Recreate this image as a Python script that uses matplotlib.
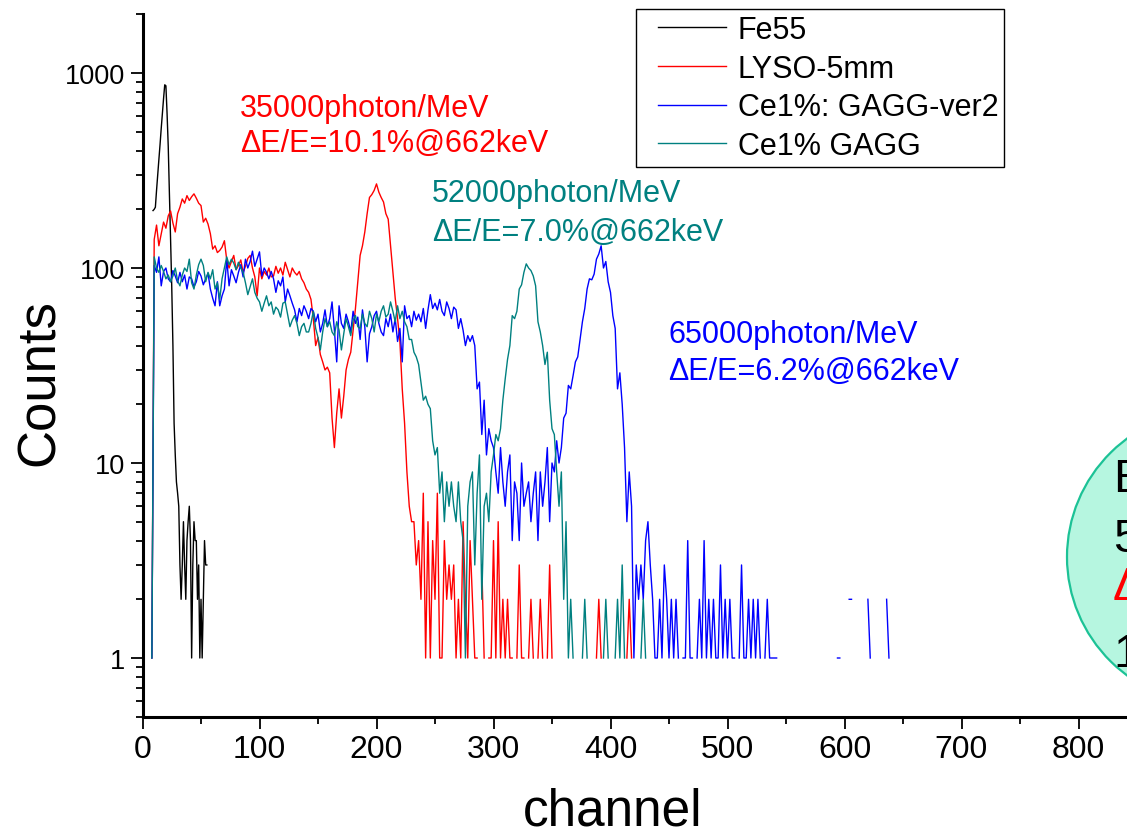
import numpy as np
import matplotlib
matplotlib.use("Agg")
import matplotlib.pyplot as plt
from matplotlib.patches import Ellipse
from matplotlib.lines import Line2D
from matplotlib.legend_handler import HandlerBase
from matplotlib.ticker import FixedLocator, MultipleLocator, LogLocator, NullFormatter

# ---------------- spectra (counts per channel) ----------------
# Fe55: one value per channel starting at channel 9
fe55_first_channel = 9
fe55_counts = [197, 200, 205, 250, 300, 360, 430, 520, 620, 740,
               870, 860, 620, 420, 240, 140, 80, 40, 16, 11,
               8, 7, 6, 3, 2, 3, 5, 3, 2, 4,
               5, 6, 4, 1, 3, 5, 4, 4, 2, 3,
               1, 2, 1, 2, 4, 3, 3]

# the three scintillator spectra: every second channel starting at channel 8
scint_first_channel = 8
scint_channel_step = 2

lyso_counts = [
    1, 140, 166, 130, 150, 172, 160, 185, 196, 170,
    153, 190, 205, 226, 215, 235, 222, 232, 240, 228,
    215, 209, 172, 180, 168, 150, 125, 130, 120, 123,
    128, 138, 110, 100, 108, 116, 98, 103, 110, 95,
    102, 112, 116, 100, 90, 72, 100, 88, 96, 92,
    100, 90, 91, 102, 94, 100, 92, 107, 98, 90,
    100, 95, 92, 96, 88, 84, 78, 75, 69, 55,
    40, 44, 36, 33, 30, 31, 29, 17, 12, 18,
    24, 17, 22, 30, 34, 37, 48, 62, 85, 116,
    130, 153, 190, 230, 238, 250, 270, 245, 230, 218,
    190, 178, 130, 95, 70, 55, 42, 24, 16, 9,
    6, 5, 5, 3, 4, 2, 7, 1, 5, 1,
    4, 2, 7, 1, 1, 4, 2, 3, 2, 3,
    1, 2, 1, 5, 2, 1, 4, 2, 1, 1,
    0, 3, 1, 0, 1, 1, 4, 1, 5, 1,
    2, 1, 2, 1, 1, 0, 1, 3, 1, 1,
    0, 1, 2, 1, 0, 1, 2, 1, 0, 1,
    3, 1, 0, 0, 0, 0, 0, 0, 0, 0,
    0, 0, 0, 0, 0, 0, 0, 0, 0, 0,
    1, 2, 1, 0, 0, 0, 0, 0, 0, 0,
    0, 0, 0, 1, 2, 1, 0, 0, 0, 0,
]

gagg_v2_counts = [
    1, 103, 95, 114, 81, 96, 100, 88, 85, 97,
    91, 84, 95, 85, 92, 78, 90, 88, 80, 85,
    96, 91, 82, 88, 94, 78, 70, 64, 85, 64,
    72, 78, 111, 81, 98, 91, 84, 95, 104, 90,
    111, 100, 108, 122, 102, 111, 121, 91, 100, 95,
    88, 96, 88, 75, 86, 81, 90, 67, 78, 72,
    66, 61, 53, 62, 57, 64, 60, 55, 62, 60,
    53, 58, 47, 52, 61, 50, 55, 67, 48, 33,
    64, 52, 49, 58, 53, 47, 60, 52, 56, 43,
    61, 50, 33, 46, 50, 57, 60, 52, 47, 45,
    55, 50, 58, 47, 55, 42, 49, 33, 64, 55,
    57, 50, 60, 54, 58, 53, 62, 49, 61, 73,
    62, 66, 61, 69, 60, 57, 67, 62, 55, 63,
    61, 49, 55, 48, 40, 45, 42, 45, 40, 24,
    26, 14, 21, 11, 15, 13, 12, 9, 7, 12,
    8, 6, 9, 11, 4, 8, 7, 4, 10, 6,
    7, 8, 5, 7, 9, 4, 9, 6, 8, 12,
    5, 10, 9, 13, 10, 12, 17, 18, 25, 24,
    28, 33, 35, 43, 53, 62, 78, 88, 87, 93,
    111, 118, 130, 100, 108, 85, 75, 57, 49, 24,
    29, 20, 12, 5, 9, 6, 1, 3, 2, 3,
    2, 4, 5, 3, 2, 1, 1, 2, 1, 3,
    2, 1, 2, 1, 2, 1, 0, 1, 1, 4,
    1, 1, 0, 1, 2, 1, 4, 1, 2, 1,
    2, 1, 1, 3, 1, 2, 1, 2, 1, 1,
    0, 1, 3, 1, 1, 2, 1, 2, 1, 2,
    1, 0, 1, 2, 1, 1, 1, 1, 0, 0,
    0, 0, 0, 0, 0, 0, 0, 0, 0, 0,
    0, 0, 0, 0, 0, 0, 0, 0, 0, 0,
    0, 0, 0, 1, 1, 0, 0, 0, 2, 2,
    0, 0, 0, 0, 0, 0, 2, 1, 0, 0,
    0, 0, 0, 0, 2, 1, 0,
]

gagg_counts = [
    1, 114, 100, 95, 103, 96, 88, 92, 85, 91,
    100, 86, 81, 92, 100, 96, 111, 84, 78, 92,
    104, 111, 103, 85, 95, 88, 98, 78, 84, 69,
    88, 100, 114, 104, 111, 106, 98, 107, 100, 95,
    84, 73, 80, 88, 75, 70, 67, 60, 66, 72,
    64, 67, 58, 63, 61, 56, 66, 67, 58, 50,
    54, 57, 52, 45, 50, 52, 47, 47, 52, 60,
    49, 44, 38, 47, 55, 50, 53, 47, 45, 53,
    48, 38, 46, 55, 50, 45, 54, 57, 50, 49,
    58, 52, 50, 60, 55, 47, 58, 53, 60, 64,
    56, 58, 67, 60, 53, 64, 55, 60, 53, 50,
    43, 43, 37, 35, 32, 26, 21, 22, 20, 19,
    13, 11, 12, 7, 9, 5, 8, 6, 8, 6,
    5, 8, 5, 4, 1, 6, 8, 9, 3, 7,
    11, 2, 6, 7, 5, 9, 11, 14, 13, 15,
    21, 27, 34, 40, 57, 55, 60, 78, 82, 95,
    105, 100, 97, 91, 81, 53, 47, 40, 32, 37,
    21, 15, 14, 9, 6, 9, 2, 5, 1, 2,
    1, 0, 0, 0, 1, 2, 1, 0, 0, 0,
    0, 0, 0, 1, 2, 1, 0, 0, 1, 2,
    1, 3, 1, 0, 0, 0, 0, 0, 0, 1,
    2, 1,
]

series_labels = ["Fe55", "LYSO-5mm", "Ce1%: GAGG-ver2", "Ce1% GAGG"]
series_colors = ["#000000", "#ff0000", "#0000ff", "#008080"]

x_ticks = [0, 100, 200, 300, 400, 500, 600, 700, 800]
y_ticks = [1, 10, 100, 1000]
y_tick_labels = ["1", "10", "100", "1000"]

notes = [
    ("35000photon/MeV", "\u0394E/E=10.1%@662keV", "#ff0000"),
    ("52000photon/MeV", "\u0394E/E=7.0%@662keV", "#008080"),
    ("65000photon/MeV", "\u0394E/E=6.2%@662keV", "#0000ff"),
]
bubble_lines = [("E", "#000000"), ("5", "#000000"), ("\u0394", "#ff0000"), ("1", "#000000")]

# ---------------- figure ----------------
W, H = 1127, 829
fig = plt.figure(figsize=(W / 100, H / 100), dpi=100)
fig.patch.set_facecolor("white")

plain = ["Liberation Sans", "DejaVu Sans"]

x0_px, px_per_ch = 142.5, 1.17
ax_top_px, ax_bot_px = 15.3, 717.7
ax = fig.add_axes([x0_px / W, (H - ax_bot_px) / H, 1 - x0_px / W, (ax_bot_px - ax_top_px) / H])


def as_log_series(values):
    arr = np.asarray(values, dtype=float)
    return np.where(arr > 0, arr, np.nan)


fe55_ch = fe55_first_channel + np.arange(len(fe55_counts))
lines = [ax.plot(fe55_ch, as_log_series(fe55_counts), color=series_colors[0], lw=1.0)[0]]
for counts, color in zip([lyso_counts, gagg_v2_counts, gagg_counts], series_colors[1:]):
    ch = scint_first_channel + scint_channel_step * np.arange(len(counts))
    lines.append(ax.plot(ch, as_log_series(counts), color=color, lw=1.0)[0])

ax.set_yscale("log")
ax.set_xlim(0, (W - x0_px) / px_per_ch)
ax.set_ylim(0.5, 2000)

ax.xaxis.set_major_locator(FixedLocator(x_ticks))
ax.xaxis.set_minor_locator(MultipleLocator(50))
ax.set_xticklabels([str(t) for t in x_ticks])
ax.yaxis.set_major_locator(FixedLocator(y_ticks))
ax.yaxis.set_minor_locator(LogLocator(base=10, subs=np.arange(2, 10)))
ax.yaxis.set_minor_formatter(NullFormatter())
ax.set_yticklabels(y_tick_labels)

for side in ("top", "right"):
    ax.spines[side].set_visible(False)
for side in ("left", "bottom"):
    ax.spines[side].set_linewidth(2.2)

ax.tick_params(which="major", direction="out", length=8.5, width=1.3, pad=4)
ax.tick_params(which="minor", direction="out", length=5.0, width=1.3)
for lab in ax.get_xticklabels():
    lab.set_fontfamily(plain)
    lab.set_fontsize(23)
for lab in ax.get_yticklabels():
    lab.set_fontfamily(plain)
    lab.set_fontsize(19.5)

fig.text(40 / W, 1 - 383 / H, "Counts", rotation=90, ha="center", va="center",
         fontsize=38, family=plain)
fig.text(613 / W, 1 - 826 / H, "channel", ha="center", va="baseline",
         fontsize=37, family=plain)


class InsetLine(HandlerBase):
    """Legend handle: a plain line that starts a little in from the left edge."""

    def __init__(self, inset):
        super().__init__()
        self.inset = inset

    def create_artists(self, legend, orig_handle, xdescent, ydescent, width, height,
                       fontsize, trans):
        x_start = -xdescent + width * self.inset
        y = -ydescent + height / 2
        seg = Line2D([x_start, -xdescent + width], [y, y], color=orig_handle.get_color(),
                     lw=orig_handle.get_linewidth(), transform=trans)
        return [seg]


leg = ax.legend(lines, series_labels, loc="upper left",
                bbox_to_anchor=(636 / W, 1 - 10 / H), bbox_transform=fig.transFigure,
                prop={"family": plain, "size": 22}, frameon=True, fancybox=False,
                framealpha=1, edgecolor="black", borderpad=0.2, labelspacing=0.28,
                handlelength=2.75, handletextpad=0.38, borderaxespad=0,
                handler_map={Line2D: InsetLine(0.19)})
leg.get_frame().set_linewidth(1.0)

# annotation text positions (left x, baseline of first line, baseline of second line) in pixels
note_positions = [(240, 117, 152), (432, 202, 241), (668, 343, 380)]
for (l1, l2, color), (px, b1, b2) in zip(notes, note_positions):
    fig.text(px / W, 1 - b1 / H, l1, color=color, fontsize=22, family=plain, va="baseline")
    fig.text(px / W, 1 - b2 / H, l2, color=color, fontsize=22, family=plain, va="baseline")

# overlay in pixel coordinates for the call-out bubble on the right edge
ov = fig.add_axes([0, 0, 1, 1], zorder=5)
ov.set_xlim(0, W)
ov.set_ylim(H, 0)
ov.axis("off")
ov.patch.set_alpha(0)
ov.add_patch(Ellipse((1217, 558), 300, 296, facecolor="#b6f6e0", edgecolor="#1cc296", lw=1.6))
bubble_baselines = [492, 552, 600, 667]
for (s, color), base in zip(bubble_lines, bubble_baselines):
    ov.text(1113, base, s, color=color, fontsize=34, family=plain, va="baseline", ha="left")

fig.savefig("out.png", dpi=100)
